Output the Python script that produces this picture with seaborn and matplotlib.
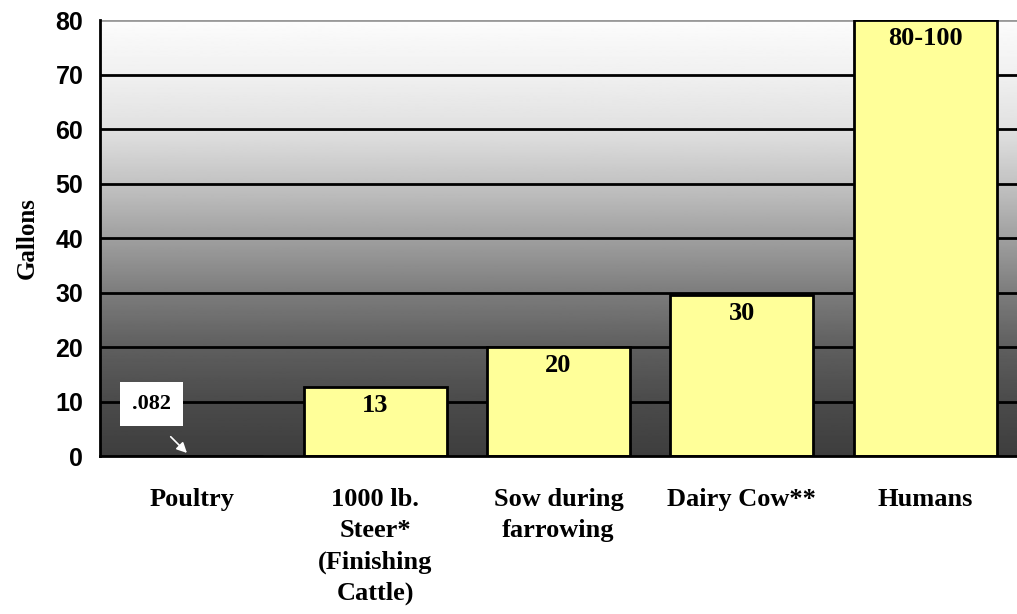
import numpy as np
import pandas as pd
import matplotlib.pyplot as plt
import seaborn as sns

# water use per day (gallons)
categories = ["Poultry", "1000 lb.\nSteer*\n(Finishing\nCattle)", "Sow during\nfarrowing",
              "Dairy Cow**", "Humans"]
gallons = [0.082, 12.6, 20, 29.5, 80]
bar_labels = [".082", "13", "20", "30", "80-100"]
yticks = [0, 10, 20, 30, 40, 50, 60, 70, 80]

df = pd.DataFrame({"cat": categories, "gal": gallons})

sns.set_style("white")
plt.rcParams["font.family"] = ["Liberation Serif", "DejaVu Serif"]
plt.rcParams.update({"text.color": "black", "axes.labelcolor": "black",
                     "xtick.color": "black", "ytick.color": "black"})

fig = plt.figure(figsize=(10.17, 6.14), dpi=100)
ax = fig.add_axes([0.0983, 0.2573, 0.9017, 0.7101])

# grey background shading: light on top, dark at the bottom
lev = np.linspace(0, 80, 400)
shade = np.interp(lev, [0, 10, 20, 30, 40, 50, 60, 70, 80],
                  [62, 75, 95, 125, 160, 195, 225, 240, 252]) / 255
ax.imshow(shade[::-1].reshape(-1, 1), cmap="gray", vmin=0, vmax=1, aspect="auto",
          extent=[-0.5, 4.5, 0, 80], zorder=0)

for t in yticks[1:-1]:
    ax.axhline(t, color="black", lw=2, zorder=1)
ax.axhline(80, color="#999999", lw=2, zorder=1)

sns.barplot(data=df, x="cat", y="gal", color="#FFFF99", saturation=1, width=0.78,
            edgecolor="black", linewidth=2, ax=ax, zorder=2)

for i, (v, lab) in enumerate(zip(gallons, bar_labels)):
    if i == 0:
        continue
    ax.text(i, v - 1.3, lab, ha="center", va="top", fontsize=19, fontweight="bold", zorder=3)

# poultry value is too small to see, call it out
ax.text(-0.22, 9.5, bar_labels[0], ha="center", va="center", fontsize=16, fontweight="bold",
        bbox=dict(boxstyle="square,pad=0.55", fc="white", ec="none"), zorder=4)
ax.annotate("", xy=(-0.015, 0.2), xytext=(-0.125, 3.9),
            arrowprops=dict(arrowstyle="-|>,head_length=0.6,head_width=0.3", color="white", lw=1.2),
            zorder=4)

ax.set_xlim(-0.5, 4.5)
ax.set_ylim(0, 80)
ax.set_yticks(yticks)
ax.set_yticklabels([str(t) for t in yticks], fontsize=18, fontweight="bold",
                   family=["Liberation Sans", "DejaVu Sans"])
ax.set_xticks(np.arange(-0.5, 5, 1))
ax.set_xticklabels([])
ax.set_xticks(range(len(categories)), minor=True)
ax.set_xticklabels(categories, minor=True, fontsize=19, fontweight="bold", va="top",
                   linespacing=1.45)
ax.tick_params(axis="x", which="minor", length=0, pad=23)
ax.tick_params(axis="x", which="major", length=9, width=2, direction="out", color="black")
ax.tick_params(axis="y", length=8, width=2, direction="out", color="black", pad=4)
ax.set_xlabel("")
ax.set_ylabel("Gallons", fontsize=18, fontweight="bold", labelpad=12)

for s in ["top", "right"]:
    ax.spines[s].set_visible(False)
for s in ["left", "bottom"]:
    ax.spines[s].set_color("black")
    ax.spines[s].set_linewidth(2)

fig.savefig("out.png", dpi=100)
